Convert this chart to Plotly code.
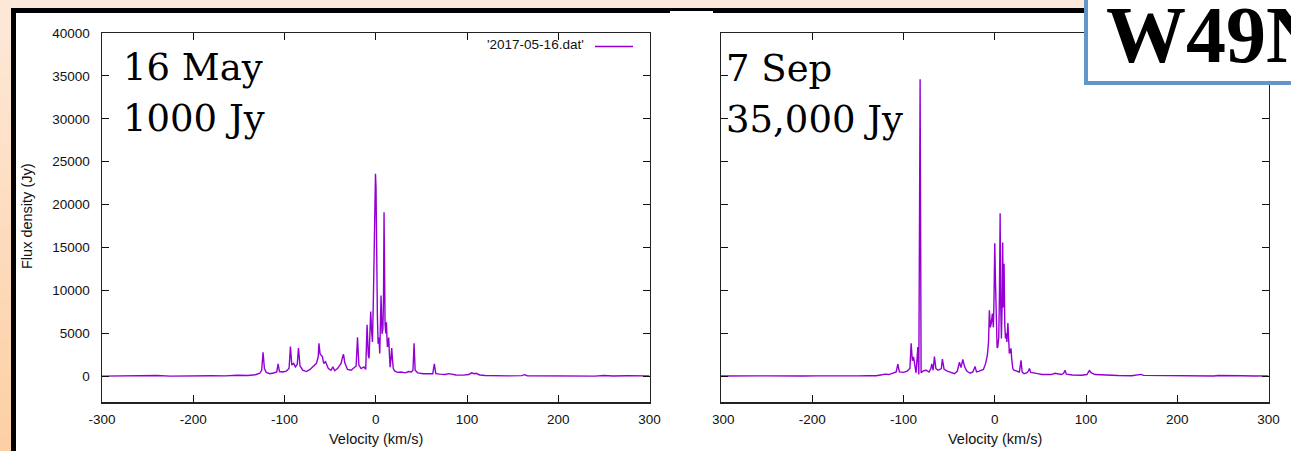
import plotly.graph_objects as go

# ---------------- data ----------------
# 16 May 2017 spectrum: velocity (km/s) and flux density (Jy)
may_velocity = [-300, -285, -270, -258, -250, -240, -225, -210, -195, -180, -165, -152, -140, -132,
                -127, -125, -123.5, -122, -120, -116, -112, -108.5, -107, -105.5, -102, -98, -95,
                -93.5, -92, -90, -88, -86, -84.7, -83, -80, -76, -72, -68, -65, -63, -62.3, -61,
                -58.5, -57, -55, -52, -49, -47, -45, -42, -38, -36, -35.3, -34, -31, -27, -24,
                -21.5, -20, -18.5, -16, -13, -11, -9.5, -8.2, -7.3, -6.4, -5.5, -4.5, -3.6, -2.6,
                -1.8, -0.9, -0.3, 0.3, 0.8, 1.8, 2.6, 3.5, 4.4, 5.2, 5.8, 6.4, 6.9, 7.8, 8.5, 9.1,
                9.7, 10.2, 11.0, 11.7, 12.3, 12.8, 13.5, 14.2, 15.0, 15.7, 16.6, 17.5, 18.3, 19.2,
                21, 24, 28, 32, 36, 39, 40.8, 42, 43.2, 46, 52, 58, 62.5, 64.2, 65.8, 70, 76, 80,
                88, 96, 102, 105, 108, 110, 114, 120, 130, 145, 160, 163, 166, 180, 200, 220, 240,
                250, 260, 275, 290, 300]
may_flux = [20, 40, 10, 60, 30, 80, 20, 50, 30, 60, 40, 120, 90, 180,
            350, 700, 2800, 900, 450, 300, 380, 500, 1450, 550, 500, 600, 900,
            3450, 1300, 1500, 1100, 1400, 3300, 1200, 700, 550, 800, 1200, 1500, 2300, 3850, 2600,
            2300, 1500, 1700, 900, 700, 1100, 650, 900, 1500, 2400, 2550, 1600, 800, 700, 1000,
            1200, 4550, 1300, 900, 1100, 800, 6000, 2500, 2100, 5000, 7550, 5200, 4000, 9000,
            15500, 18000, 23600, 22000, 11500, 7000, 3800, 4500, 2650, 6000, 9400, 7000, 4950, 5500, 9000, 19100,
            9000, 6100, 5000, 6300, 4500, 3400, 4000, 4500, 2500, 1050, 2000, 3300, 2000, 900,
            600, 450, 500, 400, 550, 500, 700, 3850, 700, 400, 300, 280, 300, 1450, 300, 250, 200, 300,
            150, 130, 200, 400, 300, 350, 150, 90, 60, 50, 70, 180, 60, 40, 30, 70, 20,
            80, 30, 60, 20, 40]

# 7 Sep 2017 spectrum
sep_velocity = [-300, -285, -270, -260, -250, -240, -225, -210, -195, -180, -165, -150, -140, -130,
                -125, -120, -116, -112, -108, -106.2, -104.5, -100, -96, -93, -91.6, -90.3, -89,
                -87.5, -86.2, -84.3, -83.2, -81.8, -80.7, -78, -75, -72, -70, -69, -67.5, -66.1,
                -64.5, -62, -58.5, -57.4, -55.5, -52, -48, -44, -41, -38.7, -37, -35, -33, -30.7,
                -27, -24, -21.6, -20, -17, -14, -12.4, -10, -8.1, -6.8, -5.9, -4.8, -3.8, -2.6,
                -1.5, -0.8, 0, 0.8, 1.8, 2.6, 3.3, 4.4, 5.2, 5.9, 6.6, 7.3, 8.0, 8.7, 9.3, 10.2,
                11.0, 11.7, 12.5, 13.3, 14.4, 15.3, 16.0, 17.0, 17.8, 18.6, 19.8, 21, 24, 27, 28.8,
                30, 32, 35, 36.8, 38, 39.5, 43, 47, 52, 58, 62, 66, 70, 73, 75.5, 77, 78.5, 85, 95,
                101, 103.6, 106, 110, 120, 135, 150, 158, 160.5, 163, 180, 200, 220, 240, 245, 255,
                270, 285, 300]
sep_flux = [30, 60, 20, 50, 40, 20, 60, 30, 50, 20, 60, 40, 70, 60,
            150, 250, 200, 350, 500, 1400, 500, 450, 600, 900, 3850, 1800, 2250,
            1200, 400, 3400, 200, 34600, 400, 650, 700, 500, 900, 1450, 700, 2300,
            900, 700, 900, 2000, 800, 600, 450, 300, 600, 1650, 1000, 1950, 1100, 600,
            350, 500, 1150, 500, 600, 700, 800, 1500, 2450, 4000, 7700, 5700, 6200, 7300,
            5700, 9000, 15500, 11000, 5000, 3300, 3400, 4550, 10000, 19000, 8000, 4400, 8000, 15600, 8000, 13100,
            6000, 4400, 5000, 4000, 6200, 4000, 2650, 3000, 3250, 2000, 900, 700, 600, 500, 1850,
            500, 300, 400, 600, 900, 450, 350, 300, 200, 250, 200, 350, 300, 200, 350, 700, 250, 150, 120,
            200, 650, 400, 200, 120, 80, 60, 120, 220, 100, 70, 40, 60, 30, 90, 50,
            60, 30, 50]

x_tick_values = [-300, -200, -100, 0, 100, 200, 300]
x_tick_labels = ["-300", "-200", "-100", "0", "100", "200", "300"]
y_tick_values = [0, 5000, 10000, 15000, 20000, 25000, 30000, 35000, 40000]
y_tick_labels = ["0", "5000", "10000", "15000", "20000", "25000", "30000", "35000", "40000"]

panel_dates = ["16 May", "7 Sep"]
panel_peaks = ["1000 Jy", "35,000 Jy"]
legend_label = "'2017-05-16.dat'"
source_name = "W49N"

# ---------------- layout helpers ----------------
W, H = 1291, 451
def px(x):
    return x / W
def py(y):
    return 1 - y / H

LINE = "#9400d3"
SANS = "Liberation Sans, Arial, sans-serif"
TICKFONT = dict(family=SANS, size=13.5, color="#111")

fig = go.Figure()
fig.add_trace(go.Scatter(x=may_velocity, y=may_flux, mode="lines", line=dict(color=LINE, width=1.4),
                         xaxis="x", yaxis="y", showlegend=False, hoverinfo="skip"))
fig.add_trace(go.Scatter(x=sep_velocity, y=sep_flux, mode="lines", line=dict(color=LINE, width=1.4),
                         xaxis="x2", yaxis="y2", showlegend=False, hoverinfo="skip"))

ydom = [py(402), py(33)]
common_x = dict(range=[-300, 300], tickvals=x_tick_values, ticktext=x_tick_labels, ticks="inside",
                ticklen=7, tickwidth=1, tickcolor="#111", showline=True, linecolor="#222", linewidth=1.5,
                mirror="ticks", showgrid=False, zeroline=False, tickfont=TICKFONT, fixedrange=True,
                automargin=False)
common_y = dict(range=[-3000, 40000], tickvals=y_tick_values, ticktext=y_tick_labels, ticks="inside",
                ticklen=7, tickwidth=1, tickcolor="#111", showline=True, linecolor="#222", linewidth=1.5,
                mirror="ticks", showgrid=False, zeroline=False, tickfont=TICKFONT, domain=ydom,
                fixedrange=True, automargin=False)

fig.update_layout(
    width=W, height=H, margin=dict(l=0, r=0, t=0, b=0, pad=0, autoexpand=False),
    paper_bgcolor="white", plot_bgcolor="white", showlegend=False,
    xaxis=dict(common_x, domain=[px(102), px(649.5)], anchor="y", ticklabelstandoff=4),
    yaxis=dict(common_y, anchor="x", ticklabelstandoff=8),
    xaxis2=dict(common_x, domain=[px(721), px(1268.5)], anchor="y2", ticklabelstandoff=4),
    yaxis2=dict(common_y, anchor="x2", showticklabels=False),
)

shapes = []
# peach slide background: top strip and left gradient strip
shapes.append(dict(type="rect", xref="paper", yref="paper", x0=0, x1=1, y0=py(9), y1=1,
                   fillcolor="#fde9dc", line=dict(width=0), layer="above"))
n_bands = 24
top_col = (253, 232, 216)
bot_col = (252, 208, 164)
for i in range(n_bands):
    t = i / (n_bands - 1)
    c = tuple(int(round(top_col[k] + (bot_col[k] - top_col[k]) * t)) for k in range(3))
    shapes.append(dict(type="rect", xref="paper", yref="paper", x0=0, x1=px(11.5),
                       y0=py(H * (i + 1) / n_bands + 0.5), y1=py(H * i / n_bands),
                       fillcolor="rgb(%d,%d,%d)" % c, line=dict(width=0), layer="above"))
# black slide frame
shapes.append(dict(type="line", xref="paper", yref="paper", x0=px(11), x1=px(670), y0=py(10.5), y1=py(10.5),
                   line=dict(color="black", width=5), layer="above"))
shapes.append(dict(type="line", xref="paper", yref="paper", x0=px(670), x1=px(713), y0=py(9.5), y1=py(9.5),
                   line=dict(color="black", width=3), layer="above"))
shapes.append(dict(type="line", xref="paper", yref="paper", x0=px(713), x1=1, y0=py(10.5), y1=py(10.5),
                   line=dict(color="black", width=5), layer="above"))
shapes.append(dict(type="line", xref="paper", yref="paper", x0=px(13.5), x1=px(13.5), y0=0, y1=py(8),
                   line=dict(color="black", width=5), layer="above"))
# hide the minus sign of the right panel's first tick label (overlapped image edge)
shapes.append(dict(type="rect", xref="paper", yref="paper", x0=px(665), x1=px(712.5), y0=py(428), y1=py(404),
                   fillcolor="white", line=dict(width=0), layer="above"))
# legend sample line
shapes.append(dict(type="line", xref="paper", yref="paper", x0=px(595), x1=px(633), y0=py(46.5), y1=py(46.5),
                   line=dict(color=LINE, width=1.3), layer="above"))
# W49N label box
shapes.append(dict(type="rect", xref="paper", yref="paper", x0=px(1086), x1=px(1300), y0=py(83), y1=py(-10),
                   fillcolor="white", line=dict(color="#6396c8", width=4), layer="above"))

annotations = []
SERIF = "DejaVu Serif, Liberation Serif, serif"
annotations.append(dict(text=panel_dates[0], x=px(121), y=py(68), xref="paper", yref="paper",
                        xanchor="left", yanchor="middle", showarrow=False, font=dict(family=SERIF, size=37, color="black")))
annotations.append(dict(text=panel_peaks[0], x=px(121), y=py(118), xref="paper", yref="paper",
                        xanchor="left", yanchor="middle", showarrow=False, font=dict(family=SERIF, size=37, color="black")))
annotations.append(dict(text=panel_dates[1], x=px(724), y=py(69), xref="paper", yref="paper",
                        xanchor="left", yanchor="middle", showarrow=False, font=dict(family=SERIF, size=37, color="black")))
annotations.append(dict(text=panel_peaks[1], x=px(724), y=py(119), xref="paper", yref="paper",
                        xanchor="left", yanchor="middle", showarrow=False, font=dict(family=SERIF, size=37, color="black")))
annotations.append(dict(text=legend_label, x=px(586), y=py(45), xref="paper", yref="paper",
                        xanchor="right", yanchor="middle", showarrow=False,
                        font=dict(family=SANS, size=13.5, color="#111")))
annotations.append(dict(text="Flux density (Jy)", x=px(27), y=py(216), xref="paper", yref="paper",
                        xanchor="center", yanchor="middle", textangle=-90, showarrow=False,
                        font=dict(family=SANS, size=14.5, color="#111")))
annotations.append(dict(text="Velocity (km/s)", x=px(376), y=py(439), xref="paper", yref="paper",
                        xanchor="center", yanchor="middle", showarrow=False,
                        font=dict(family=SANS, size=14.5, color="#111")))
annotations.append(dict(text="Velocity (km/s)", x=px(995), y=py(439), xref="paper", yref="paper",
                        xanchor="center", yanchor="middle", showarrow=False,
                        font=dict(family=SANS, size=14.5, color="#111")))
annotations.append(dict(text="<b>" + source_name + "</b>", x=px(1104), y=py(35), xref="paper", yref="paper",
                        xanchor="left", yanchor="middle", showarrow=False,
                        font=dict(family="Liberation Serif, serif", size=80, color="black")))

fig.update_layout(shapes=shapes, annotations=annotations)
fig.write_html("out.html", config={"displayModeBar": False, "staticPlot": True},
               post_script="document.body.style.margin='0px';document.body.style.padding='0px';"
                           "document.body.style.overflow='hidden';")
